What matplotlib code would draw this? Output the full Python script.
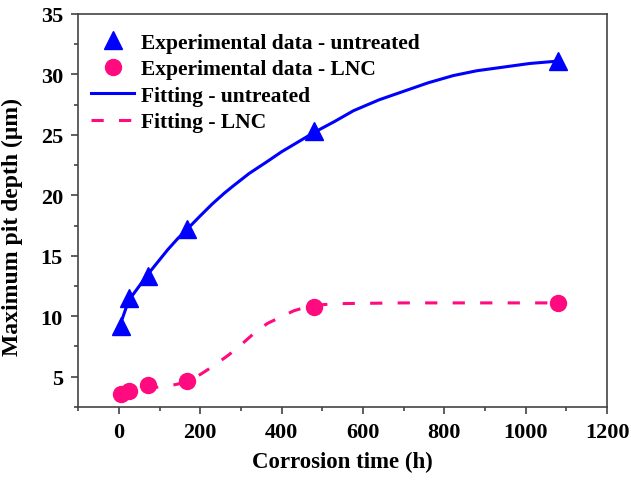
import matplotlib
matplotlib.use('Agg')
import matplotlib.pyplot as plt
from matplotlib.ticker import MultipleLocator

# measured points
time_h = [5, 24, 72, 168, 480, 1080]
depth_untreated = [9.2, 11.5, 13.3, 17.2, 25.3, 31.1]
depth_lnc = [3.6, 3.8, 4.3, 4.6, 10.8, 11.1]

# fitting curves
fit_x_untreated = [0, 24, 48, 72, 96, 120, 144, 168, 200, 230, 260, 282, 320, 365, 400, 430,
                   480, 530, 577, 640, 700, 760, 822, 880, 945, 1010, 1080]
fit_y_untreated = [9.0, 11.3, 12.4, 13.5, 14.5, 15.5, 16.4, 17.2, 18.3, 19.3, 20.2, 20.8, 21.8,
                   22.8, 23.6, 24.2, 25.2, 26.1, 27.0, 27.9, 28.6, 29.3, 29.9, 30.3, 30.6, 30.9, 31.1]
fit_x_lnc = [0, 50, 98, 140, 170, 201, 233, 270, 299, 336, 365, 402, 430, 455, 480, 520, 560, 700, 1080]
fit_y_lnc = [3.7, 3.9, 4.15, 4.35, 4.6, 5.2, 5.9, 6.8, 7.6, 8.7, 9.4, 10.0, 10.45, 10.7, 10.9,
             11.0, 11.05, 11.1, 11.1]

blue = '#0000FF'
pink = '#FF0A7F'

plt.rcParams['font.family'] = ['Liberation Serif', 'DejaVu Serif']
plt.rcParams['font.weight'] = 'bold'

fig = plt.figure(figsize=(6.31, 4.81), dpi=100)
ax = fig.add_axes([0.124, 0.152, 0.838, 0.817])

ax.plot(time_h, depth_untreated, '^', color=blue, ms=12.5, ls='none',
        label='Experimental data - untreated', zorder=3)
ax.plot(time_h, depth_lnc, 'o', color=pink, ms=11.5, ls='none',
        label='Experimental data - LNC', zorder=3)
ax.plot(fit_x_untreated, fit_y_untreated, '-', color=blue, lw=2.2,
        label='Fitting - untreated')
ax.plot(fit_x_lnc, fit_y_lnc, '--', color=pink, lw=2.2, dashes=(4.0, 5.0),
        label='Fitting - LNC')

ax.set_xlim(-100, 1200)
ax.set_ylim(2.5, 35)
ax.xaxis.set_major_locator(MultipleLocator(200))
ax.xaxis.set_minor_locator(MultipleLocator(100))
ax.yaxis.set_major_locator(MultipleLocator(5))
ax.yaxis.set_minor_locator(MultipleLocator(2.5))
ax.tick_params(which='both', direction='out', top=False, right=False,
               labelsize=16, width=1.1, color='#333333')
ax.tick_params(which='major', length=5, pad=6)
ax.tick_params(which='minor', length=3)
for lbl in ax.get_xticklabels() + ax.get_yticklabels():
    lbl.set_fontweight('bold')
for s in ax.spines.values():
    s.set_color('#444444')
    s.set_linewidth(1.2)

ax.set_xlabel('Corrosion time (h)', fontsize=16.5, fontweight='bold', labelpad=6)
ax.set_ylabel('Maximum pit depth (\u03bcm)', fontsize=17, fontweight='bold')
ax.yaxis.set_label_coords(-0.105, 0.46)

ax.legend(loc='upper left', bbox_to_anchor=(0.0, 0.985), frameon=False,
          prop={'size': 15.5, 'weight': 'bold'}, handlelength=2.0,
          handletextpad=0.3, labelspacing=0.3, borderaxespad=0.2)

fig.savefig('out.png', dpi=100)
